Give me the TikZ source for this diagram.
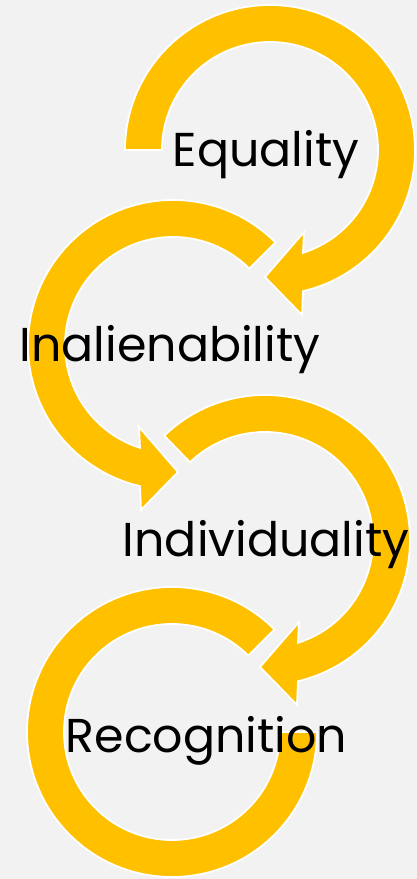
\documentclass[tikz,border=0pt]{standalone}
\usepackage{fontspec}
\setmainfont{Poppins}
\usetikzlibrary{calc}
\definecolor{ringyellow}{HTML}{FFC000}
\definecolor{bggray}{HTML}{F2F2F2}
\tikzset{
  ring/.style={fill=ringyellow, draw=white, line width=1.8pt, line join=miter},
  txtlbl/.style={anchor=base, inner sep=0pt, font=\fontsize{47.5}{47.5}\selectfont, text=black}
}
\begin{document}
\begin{tikzpicture}[x=1pt,y=1pt]
\fill[bggray] (0,0) rectangle (417,879);
\useasboundingbox (0,0) rectangle (417,879);
% centres
\coordinate (c1) at (270,729);
\coordinate (c2) at (173,534);
\coordinate (c3) at (265,339);
\coordinate (c4) at (172,147);
% circle 1: clockwise, arrowhead lower right
\draw[ring] ($(c1)+(180:145)$) arc[start angle=180, end angle=-76.84, radius=145]
  -- ($(c1)+(32,-165)$) -- ($(c1)+(-5,-127)$) -- ($(c1)+(34,-82)$)
  -- ($(c1)+(-72.21:108)$) arc[start angle=-72.21, end angle=180, radius=108] -- cycle;
% circle 2: counter-clockwise, arrowhead lower left
\draw[ring] ($(c2)+(45:145)$) arc[start angle=45, end angle=256.84, radius=145]
  -- ($(c2)+(-32,-165)$) -- ($(c2)+(5,-127)$) -- ($(c2)+(-34,-82)$)
  -- ($(c2)+(252.21:108)$) arc[start angle=252.21, end angle=45, radius=108] -- cycle;
% circle 3
\draw[ring] ($(c3)+(134:145)$) arc[start angle=134, end angle=-76.84, radius=145]
  -- ($(c3)+(32,-165)$) -- ($(c3)+(-5,-127)$) -- ($(c3)+(34,-82)$)
  -- ($(c3)+(-72.21:108)$) arc[start angle=-72.21, end angle=134, radius=108] -- cycle;
% circle 4: no arrowhead
\draw[ring] ($(c4)+(45:145)$) arc[start angle=45, end angle=360, radius=145]
  -- ($(c4)+(108,0)$) arc[start angle=360, end angle=45, radius=108] -- cycle;
% labels
\node[txtlbl] (t1) at (266,712) {Equality};
\node[txtlbl] (t2) at (170,517) {Inalienability};
\node[txtlbl] (t3) at (266,322) {Individuality};
\node[txtlbl] (t4) at (206.5,126) {Recognition};
\end{tikzpicture}
\end{document}
